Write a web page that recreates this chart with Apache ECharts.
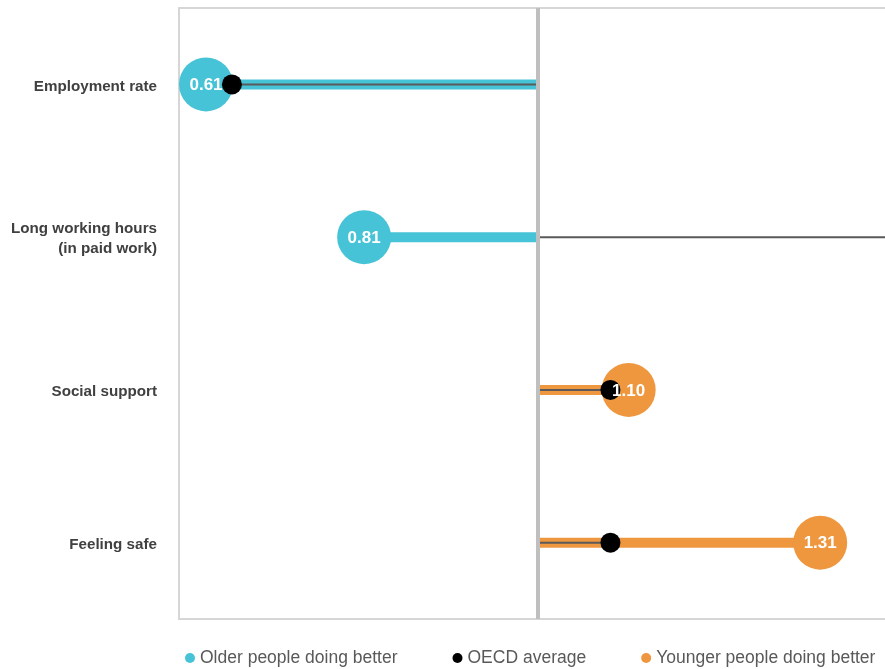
<!DOCTYPE html>
<html>
<head>
<meta charset="utf-8">
<script src="https://cdn.jsdelivr.net/npm/echarts@6/dist/echarts.min.js"></script>
<style>
html,body{margin:0;padding:0;background:#fff;}
#chart{width:885px;height:669px;}
</style>
</head>
<body>
<div id="chart"></div>
<script>
// ---- data ----
const categories = ['Employment rate', 'Long working hours\n(in paid work)', 'Social support', 'Feeling safe'];
const ratioValues = [0.61, 0.81, 1.10, 1.31];
const oecdAverage = [0.665, 1.45, 1.08, 1.08];
const parityValue = 1;
const legendNames = ['Older people doing better', 'OECD average', 'Younger people doing better'];

// ---- styles ----
const TEAL = '#46C3D6';
const ORANGE = '#EE973E';
const FONT = "'Liberation Sans', Arial, sans-serif";
const R = 27;

const older = [], younger = [];
ratioValues.forEach((v, i) => {
  const item = [v, i, oecdAverage[i]];
  if (v < parityValue) older.push(item); else younger.push(item);
});
const labelData = ratioValues.map((v, i) => [v, i]);
const oecdData = oecdAverage.map((v, i) => [v, i]);

function circleX(params, api) {
  const cs = params.coordSys;
  const x = api.coord([api.value(0), api.value(1)])[0];
  return Math.min(Math.max(x, cs.x + R), cs.x + cs.width - R);
}

function renderLollipop(params, api) {
  const cs = params.coordSys;
  const idx = api.value(1);
  const base = api.coord([parityValue, idx]);
  const y = base[1];
  const xc = circleX(params, api);
  let xo = api.coord([api.value(2), idx])[0];
  xo = Math.min(Math.max(xo, cs.x), cs.x + cs.width);
  const color = api.visual('color');
  return {
    type: 'group',
    children: [
      { type: 'line', shape: { x1: base[0], y1: y, x2: xc, y2: y }, style: { stroke: color, lineWidth: 10 } },
      { type: 'line', shape: { x1: base[0], y1: y, x2: xo, y2: y }, style: { stroke: '#5a5a5a', lineWidth: 2 } },
      { type: 'circle', shape: { cx: xc, cy: y, r: R }, style: { fill: color } }
    ]
  };
}

function renderLabel(params, api) {
  const y = api.coord([parityValue, api.value(1)])[1];
  const xc = circleX(params, api);
  return {
    type: 'text',
    style: {
      text: api.value(0).toFixed(2), x: xc, y: y + 1,
      fill: '#ffffff', align: 'center', verticalAlign: 'middle',
      font: 'bold 17px ' + FONT
    }
  };
}

const chart = echarts.init(document.getElementById('chart'), null, { renderer: 'canvas' });
chart.setOption({
  backgroundColor: '#ffffff',
  animation: false,
  textStyle: { fontFamily: FONT },
  grid: {
    left: 179, top: 8, right: -10, bottom: 50,
    outerBoundsMode: 'none', containLabel: false,
    show: true, borderColor: '#d6d6d6', borderWidth: 2, backgroundColor: 'transparent'
  },
  legend: {
    left: 180, top: 644,
    icon: 'circle', itemWidth: 10, itemHeight: 10, itemGap: 55,
    textStyle: { fontFamily: FONT, fontSize: 17.5, color: '#595959' },
    data: [
      { name: legendNames[0], itemStyle: { color: TEAL } },
      { name: legendNames[1], itemStyle: { color: '#000000' } },
      { name: legendNames[2], itemStyle: { color: ORANGE } }
    ],
    selectedMode: false
  },
  xAxis: {
    type: 'value', min: 0.607, max: 1.392,
    axisLine: { show: false }, axisTick: { show: false },
    axisLabel: { show: false }, splitLine: { show: false }
  },
  yAxis: {
    type: 'category', data: categories, inverse: true,
    axisLine: { show: false }, axisTick: { show: false }, splitLine: { show: false },
    axisLabel: {
      margin: 22, align: 'right',
      formatter: (v) => '{e| }\n' + v.split('\n').map(s => '{a|' + s + '}').join('\n'),
      rich: {
        e: { fontSize: 1, lineHeight: 4 },
        a: { fontFamily: FONT, fontSize: 15.2, fontWeight: 'bold', color: '#404040', lineHeight: 20, align: 'right' }
      }
    }
  },
  series: [
    {
      name: legendNames[0], type: 'custom', z: 2,
      itemStyle: { color: TEAL },
      encode: { x: 0, y: 1 },
      renderItem: renderLollipop, data: older,
      markLine: {
        silent: true, symbol: 'none', label: { show: false },
        lineStyle: { color: '#bfbfbf', width: 4, type: 'solid' },
        data: [{ xAxis: parityValue }]
      }
    },
    {
      name: legendNames[2], type: 'custom', z: 2,
      itemStyle: { color: ORANGE },
      encode: { x: 0, y: 1 },
      renderItem: renderLollipop, data: younger
    },
    {
      name: legendNames[1], type: 'scatter', z: 3,
      symbol: 'circle', symbolSize: 20, clip: true,
      itemStyle: { color: '#000000', opacity: 1 },
      data: oecdData
    },
    {
      name: 'labels', type: 'custom', z: 4, silent: true,
      encode: { x: 0, y: 1 },
      renderItem: renderLabel, data: labelData
    }
  ]
});
</script>
</body>
</html>
